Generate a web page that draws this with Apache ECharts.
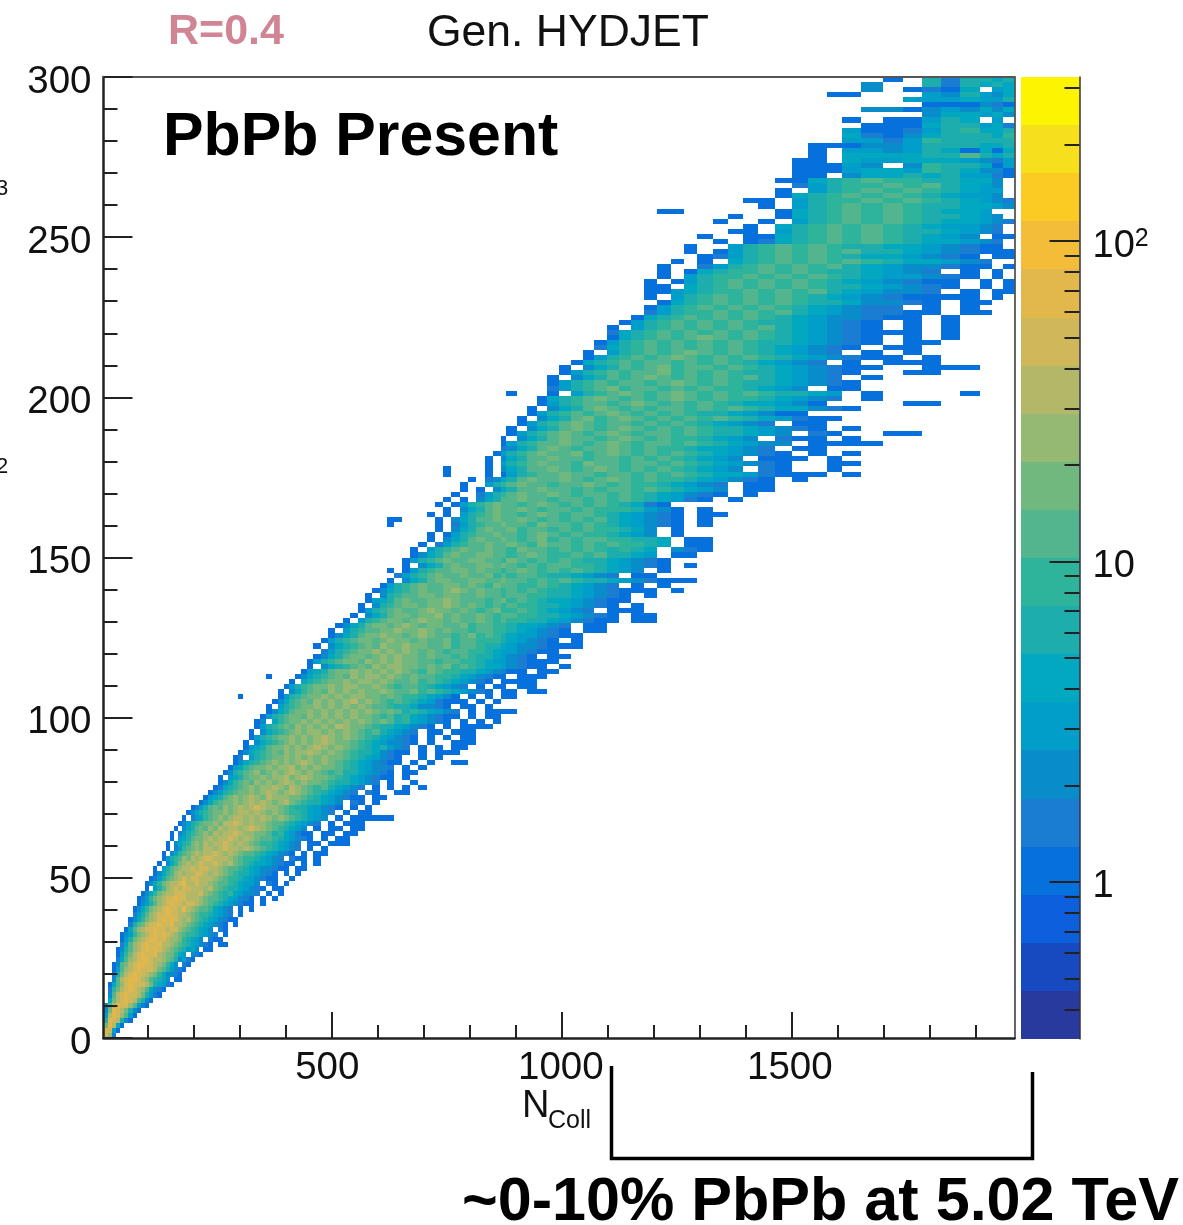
<!DOCTYPE html>
<html><head><meta charset="utf-8">
<style>html,body{margin:0;padding:0;background:#fff}#c{width:1183px;height:1225px;filter:blur(0.5px)}</style>
<script src="https://cdn.jsdelivr.net/npm/echarts@6/dist/echarts.min.js"></script>
</head><body><div id="c"></div>
<script>
const colEdges=[4,13,22,31,40,49,58,67,76,85,94,103,112,121,130,139,148,157,166,175,184,193,202,211,220,231,242,253,264,275,286,297,308,319,330,343,356,369,382,395,408,421,434,447,460,476,492,508,524,540,556,572,588,604,620,636,652,670,688,706,724,742,760,778,796,814,832,850,868,879,903,925,946,968,994,1020,1046,1070,1098,1125,1151,1179,1207,1238,1266,1294,1329,1362,1394,1427,1463,1500,1535,1576,1609,1650,1698,1742,1783,1824,1866,1909,1935,1959,1985];
const rowCount=190;
const yMax=300;
const xRange=[3.7,1984];
const levelColors=['#293a9f','#1749c0','#0e5fdb','#0670dc','#1a7dd2','#088cca','#019ec9','#02a8bf','#1cadac','#2fb49c','#53b58e','#70b87e','#95b873','#b3b768','#cfb75a','#e2b84d','#f3bc39','#fccb23','#f6df1c','#fcf400'];
const logZRange=[-0.49,2.512];
const xMajor=[500,1000,1500];
const xMinor=[100,200,300,400,600,700,800,900,1100,1200,1300,1400,1600,1700,1800,1900];
const yMajor=[0,50,100,150,200,250,300];
const yMinor=[10,20,30,40,60,70,80,90,110,120,130,140,160,170,180,190,210,220,230,240,260,270,280,290];
const zMajor=[1,10,100];
const zMinor=[0.4,0.5,0.6,0.7,0.8,0.9,2,3,4,5,6,7,8,9,20,30,40,50,60,70,80,90,200,300];
const rowCells=[
[0,0,"ec4"],[1,0,"ee63"],[2,0,"bfd73"],[3,0,"8fed853"],[4,0,"6dfeca63"],[5,0,"5bfedb853"],[6,0,"4adfeeca643"],
[7,1,"7bdefeda853"],[8,1,"5adefeedb8643"],[9,1,"49bdefedca7543"],[10,1,"37acefeeedb87643"],[11,2,"5adeffedca9875.33"],[12,2,"48bdefeedcb975543"],
[13,2,"36acdefeeedba86543"],[14,2,"35abdeffeedcb975.43"],[15,3,"47acdeffeddcba85643"],[16,3,"369bdefeefdcbb976.543"],[17,3,"358acdefefedcba98675.33"],
[18,4,"47acdefeefddcba9876543.33"],[19,4,"368bcdeffeedccb98765.433"],[20,4,"3569bcdefefedcba9987654.3"],[21,5,"37acdeefeedeecba98765.43"],
[22,6,"48abdeefeefddcba9876543.3"],[23,6,"3579bcdefefedcdba98765433"],[24,7,"468acdeefeeddcba9987654.3"],[25,7,"3579bcdefeedfdcbaa97654.3.3"],
[26,8,"3568acdefeedeedcba98765433.3"],[27,8,"3469bcdeefeedddcbaa9876543.3.3"],[28,9,"3579bcddeeedddecba98976554.3.3"],[29,10,"3.68acdedeedddcdba98876543.33"],
[30,10,"3579bcddefddeddcbaa987665.43.3"],[31,11,"3468abcdedeedddcba998765433..3"],[32,12,"3579acdcddeedcdcba98876543.3.3"],[33,12,"3.68abcddedeeddcbaa987655433.33"],
[34,13,"3.579bcdcdeddedcdba987765433.3.3"],[35,14,"3689acbdcdeedddcba9987654.433.3"],[36,14,"3.579abcdcddedcdcbaa9876543.3.33"],[37,15,"3.469abcbddcdeddcdcba987654.3.3."],
[38,15,"3.5789bcbdcddedcdcba9987654.33.333"],[39,16,"3.678abbcdcddedcdcbaa9876543.3.33"],[40,16,"3.4689abcbdcddedccbba8976433.33.33"],[41,17,"3.578abacbdcddcdedcba98765.3.33.33"],
[42,18,"35689abbcbddedcdccbaa987654.3.333"],[43,19,"3.4679abcbcddcdcdcbcba98765.3.333333"],[44,20,"35789abbcbcddcdcbcba9987654.3.33"],[45,21,"3468abacbcdcdedccba98876543.3.3"],
[46,23,"3579abbcbcdcdcbcdba988765.43.3"],[47,24,"3678abcbcdcbdcccbba98765433.33"],[48,25,"35689abbcbcdcbcdcba987654.43..33"],[49,26,"34789abcbccdcbdcba9a87654.3.3.3.3"],
[50,27,"3579abacbcbcdcbcbba9887654.3..3"],[51,27,"3.678abbcbccdbcdcbba98765433.3"],[52,28,"3589abcabcbcdcbcba9a8876543.33"],[53,29,"3679abbcbccdbcbcbba9876554.3.3"],
[54,30,"35789abcbcbcdcbcba98765433.3.3..33"],[55,30,"34.689abbcbcbcbcbba9876543..3.3."],[56,31,"35789abacbccdcbcba98875433.3.333"],[57,32,"3678abbcbcbcdcbcba9878654.3.3.33"],
[58,32,"3.5789abcbcbcdcbba98765543.3..333"],[59,33,"3689abbcbcbcdcbcba9876543.3.3.33"],[60,33,"3.5789abcbccbcbcba9a87654.33.333"],[61,34,"3689abacbcbcbdcbba98876543.3.3333"],
[62,34,"35.79abbcbcbcbcbcbaba8976543.3.3.3"],[63,35,"3689abbacbcbcbcbba9a89765433.3.33"],[64,36,"3578abbcbcbcbcbcbaba8987654.3.3333"],[65,36,"3.689abbcbcbcbcbaa98875543.33.3"],
[66,37,"3579abacbcbcdbcba9a98764333.3.3"],[67,31,"3......3689abbcbcbccbbaba9987653.3.3.33"],[68,38,"3.579abacbcbcbbcbaab9a9876543.33.33"],[69,39,"3689abbcbccbbcba9aa987654.3.33.33"],
[70,39,".3.789abbcbccbcbaab9a9876543.3333"],[71,36,"3....35789abacbccbcbabaa998765433.333"],[72,42,"3678abbcbcbcbcba9ba9988765433.33"],[73,43,"3.5789abacbccbbabab9a987765433.3"],
[74,43,"3689abbacbcbcbbaa9aa99876654333"],[75,44,"3578abbabcbcbbabaa9a98876543.33"],[76,44,".4689abbcbcbcbaba9aa9987665433"],[77,44,"3.5789abacbbcbbaab9aa98876554333"],
[78,45,"3689abbabcbbabaab9aa999876543.3"],[79,46,"3578abbcbbabcbaa9ab9a987665433"],[80,46,"3.689aabbcbbcbabaa9aa99876543.33"],[81,47,"3578abbabcbabbaab9aa99877654.33"],
[82,48,"3.689abbabcbbabaaba9a9988765433.33"],[83,49,"3.578abbabbcabaaba9aa998876543.33"],[84,50,"3689abaabcbbaba9ab99a987654.333"],[85,50,"3.589abbabbcbaba9a9a998876543.3"],
[86,51,"3678abaabbcbaaa9ab9a987765433"],[87,51,"3.589aabbabbaabaa9aa998876543.3"],[88,52,"35789abaabcbabaa9a9a9887654333.3"],[89,53,"3689abaabbaba9baa99a987654.3.3"],
[90,54,"3.578abbaabbaabaa9a9a9887654333"],[91,54,".4689abaabaab9a9aa9887654.33"],[92,54,"3.3689aabbabaa9aba9a9a98765.3"],[93,55,".3.578abaabbaba9a9aa99876543.3"],
[94,56,"3689abaabbaa9ba9a9a98876543"],[95,56,".3578abaabbaa9aba99a9a8876.33"],[96,57,"3.689abaabaa9baa9a9a98987.543"],[97,58,"3.4689aabaaba9baa9a9a9987.33"],
[98,58,".3.578abaaba9ab9a9aa99887.33"],[99,59,"3.3689aabaa9aba9a998765.3"],[100,59,".3.578abaab9aa9a9a99875.3"],[101,54,"3.....3.4689aabaa9baa9a9876543.3"],
[102,54,"33....3.578aabaaba9a9a9a876543.3"],[103,59,"3.3.689abaa9aba9aa9876543.33"],[104,60,".3.578abaaba9aa9a9998653.3"],[105,60,"3.3689abaa9aba9a9a98743"],
[106,61,"3.3.578aabaa9aa9a9a987643.3"],[107,62,"3..4689abaaba9aa9a9876543.3"],[108,62,".3.3.578aabaa9a9aa9a98765.33"],[109,63,"3..689abaa9aaba9a9987654.33"],
[110,64,"3.4578abaaba9aba9a99876543.3"],[111,61,"3....3.3689aabaa9aa9a9a987764333.3"],[112,61,"3....3.578aaba9aba9a9a98765.43..3"],[113,65,".3.689abaa9baa9aa9a9876543..33"],
[114,66,"3.578aabaa9aa9a9a98765.333.3"],[115,67,"3689abaab9aba9a9a9876543.3.3"],[116,67,".4578aba9aaba9a99877654.33"],[117,68,"3689aaba9aba9aa9a987655.3333"],
[118,68,"3.578abaa9aba9a998765.433.3"],[119,69,"3689aba9aba9aa9a988765.43..33"],[120,69,"3.578aba9aba9a9a98876543.3"],[121,70,"3689aba9aa9a9a987654.33"],
[122,70,"3.578ab9aba9a9a9a9876433"],[123,71,"3689a9aba9a9a98876533"],[124,71,"3.578aba9a9aa9a9a9877543"],[125,71,".3689aa9aba9a9a9877653....33"],
[126,72,"3789aba9a9aba9a9987654.3"],[127,69,"3...3.689aba9aba9a9a98876.3....3"],[128,72,".4689ab9aa9a9a998765.33"],[129,73,"3689a9aa9aba9a98876543"],
[130,73,"3.578a9aba9a9a9a87654.3"],[131,74,"3689a9aab9a9a98876543..33"],[132,74,"3.578a9ab9aa9a98765433..333"],[133,75,"3789a9aa9a9a987654.3.333"],
[134,75,".3689a9aba9a9a98765433.3"],[135,76,"3.689a9aba9a987654.3.3"],[136,76,".4789a9a9a9a9876543.33"],[137,77,"3689a9a9a9a98876543.33"],
[138,77,".3789a9aba9a9876543.3.3"],[139,78,"4789a9a9a9a987654333.3"],[140,78,"3.689a9a9a9a876543.3.3"],[141,79,"3689a9a9a98876543.3.3"],
[142,80,"3789a9a9a987655433.3"],[143,80,".46899a9a9a87654433.33"],[144,81,"3689a9a9a9876544.3.3"],[145,81,".3789a9a9a98875543.33"],
[146,81,"3.689a9a9a9876543333.3"],[147,81,"3367899a9a9a876554.3.33"],[148,81,"33.789a9a9a98876543.3.33"],[149,81,"3.3689a9a9a98765433.3.3"],
[150,82,"3.6899a9a9a98766543.3.3"],[151,82,"3.37899a9a9887654.3.3."],[152,82,"3..4689a9a9a87655433.3"],[153,83,"3.3.789a9a9a9877654.."],
[154,83,"..34689a9a98776543.33"],[155,84,"3.3689a9a9a887654333"],[156,84,"3..689a9a9887765433."],[157,86,"3.34789a9a9877654."],
[158,85,"3..33789a9a98765.33"],[159,87,"33.689a9a9887654"],[160,87,".3.789a9a9876654."],[161,86,"3..3.689a9a9877654"],
[162,87,"3..3789a9a988765"],[163,82,"33......3789a9a98776"],[164,89,"3.689a9a9887765"],[165,88,"33.6899a9a987654"],
[166,88,"..3789a9a987665"],[167,90,"3.689a9a98766"],[168,90,".46899a9a8765"],[169,90,"33789a9988775"],
[170,91,"33.5778786643"],[171,91,"3336776987553"],[172,91,"33365.5988736"],[173,91,"33.7667776546"],
[174,92,"3.777788a878"],[175,92,"3.6656873737"],[176,92,"333556888778"],[177,94,"6646988888"],
[178,94,"7435788879"],[179,94,"6334689778"],[180,94,".333788674"],[181,94,"3.33687.6."],
[182,98,"577675"],[183,95,"553565757"],[184,98,"333543"],[185,97,"6667668"],
[186,93,"33...658657"],[187,95,"5.3437.67"],[188,95,"5..848787"],[189,96,"3.848878"]
];
const levelCodes="0123456789abcdefghij";
const rowH=yMax/rowCount;
const cells=[];
rowCells.forEach(function(rc){
  const s=rc[2];
  for(let i=0;i<s.length;i++){
    const c=rc[1]+i;
    if(s[i]==='.'||c>=colEdges.length-1) continue;
    cells.push([colEdges[c],colEdges[c+1],rc[0]*rowH,(rc[0]+1)*rowH,levelCodes.indexOf(s[i])]);
  }
});
const levelStep=(logZRange[1]-logZRange[0])/levelColors.length;
const barCells=levelColors.map(function(_,i){return [0,1,logZRange[0]+i*levelStep,logZRange[0]+(i+1)*levelStep,i];});
function renderCell(params,api){
  const a=api.coord([api.value(0),api.value(2)]);
  const b=api.coord([api.value(1),api.value(3)]);
  const x0=Math.round(a[0]),x1=Math.round(b[0]),y0=Math.round(b[1]),y1=Math.round(a[1]);
  return {type:'rect',shape:{x:x0,y:y0,width:x1-x0,height:y1-y0},style:{fill:levelColors[api.value(4)]},silent:true};
}
const font='"Liberation Sans",Arial,sans-serif';
const tickLine={color:'#222',width:2};
const mainLine={show:true,onZero:false,lineStyle:{color:'#222',width:2.5}};
const thinLine={show:true,onZero:false,lineStyle:{color:'#555',width:1.8}};
const noLine={show:false,onZero:false};
const labelStyle={color:'#111',fontFamily:font,fontSize:38.5};
const hide={show:false};
const axisZ=10;
function logVals(list){return list.map(function(v){return Math.log10(v);});}
const chart=echarts.init(document.getElementById('c'),null,{renderer:'canvas'});
chart.setOption({
  animation:false,
  backgroundColor:'#fff',
  grid:[{left:103.5,top:77,width:911,height:961},{left:1020.5,top:77,width:59,height:962}],
  xAxis:[
    {gridIndex:0,z:axisZ,type:'value',min:xRange[0],max:xRange[1],position:'bottom',axisLine:mainLine,splitLine:hide,
      axisTick:{inside:true,length:26,lineStyle:tickLine,customValues:xMajor},
      axisLabel:Object.assign({margin:11,customValues:xMajor,hideOverlap:false,
        formatter:function(v){return '{t'+v+'|'+v+'}';},
        rich:{t500:{padding:[0,9,0,0]},t1000:{padding:[0,2,0,0]},t1500:{padding:[0,4,0,0]}}},labelStyle)},
    {gridIndex:0,z:axisZ,type:'value',min:xRange[0],max:xRange[1],position:'bottom',axisLine:noLine,splitLine:hide,
      axisTick:{inside:true,length:13,lineStyle:tickLine,customValues:xMinor},axisLabel:hide},
    {gridIndex:0,z:axisZ,type:'value',min:xRange[0],max:xRange[1],position:'top',axisLine:thinLine,splitLine:hide,axisTick:hide,axisLabel:hide},
    {gridIndex:1,type:'value',min:0,max:1,axisLine:noLine,axisTick:hide,axisLabel:hide,splitLine:hide}
  ],
  yAxis:[
    {gridIndex:0,z:axisZ,type:'value',min:0,max:yMax,position:'left',axisLine:mainLine,splitLine:hide,
      axisTick:{inside:true,length:29,lineStyle:tickLine,customValues:yMajor},
      axisLabel:Object.assign({margin:12,customValues:yMajor,hideOverlap:false,padding:[10,0,0,0],rich:{n:{}}},labelStyle)},
    {gridIndex:0,z:axisZ,type:'value',min:0,max:yMax,position:'left',axisLine:noLine,splitLine:hide,
      axisTick:{inside:true,length:14,lineStyle:tickLine,customValues:yMinor},axisLabel:hide},
    {gridIndex:0,z:axisZ,type:'value',min:0,max:yMax,position:'right',axisLine:thinLine,splitLine:hide,axisTick:hide,axisLabel:hide},
    {gridIndex:1,z:axisZ,type:'value',min:logZRange[0],max:logZRange[1],position:'right',splitLine:hide,
      axisLine:{show:true,onZero:false,lineStyle:{color:'#334',width:1.5}},
      axisTick:{inside:true,length:30,lineStyle:tickLine,customValues:logVals(zMajor)},
      axisLabel:{margin:13,customValues:logVals(zMajor),hideOverlap:false,color:'#111',fontFamily:font,fontSize:38,padding:[10,0,0,0],
        formatter:function(v){const p=Math.round(v);return p===2?'{a|10}{b|2}':String(Math.pow(10,p));},
        rich:{a:{fontSize:38,fontFamily:font,color:'#111'},b:{fontSize:25,fontFamily:font,color:'#111',verticalAlign:'top',padding:[0,0,14,0]}}}},
    {gridIndex:1,z:axisZ,type:'value',min:logZRange[0],max:logZRange[1],position:'right',splitLine:hide,axisLine:noLine,axisLabel:hide,
      axisTick:{show:true,inside:true,length:15,lineStyle:tickLine,customValues:logVals(zMinor)}}
  ],
  series:[
    {type:'custom',xAxisIndex:0,yAxisIndex:0,coordinateSystem:'cartesian2d',renderItem:renderCell,data:cells,clip:true,silent:true,progressive:0,encode:{x:[0,1],y:[2,3]}},
    {type:'custom',xAxisIndex:3,yAxisIndex:3,coordinateSystem:'cartesian2d',renderItem:renderCell,data:barCells,clip:true,silent:true,encode:{x:[0,1],y:[2,3]}}
  ],
  graphic:[
    {type:'text',left:168,top:11,style:{text:'R=0.4',fontFamily:font,fontWeight:'bold',fontSize:43,fill:'#d08494'}},
    {type:'text',left:427,top:11,style:{text:'Gen. HYDJET',fontFamily:font,fontSize:44.5,fill:'#111'}},
    {type:'text',left:163,top:108,style:{text:'PbPb Present',fontFamily:font,fontWeight:'bold',fontSize:60.8,fill:'#000'}},
    {type:'text',left:462,top:1173,style:{text:'~0-10% PbPb at 5.02 TeV',fontFamily:font,fontWeight:'bold',fontSize:61.1,fill:'#000'}},
    {type:'text',left:522,top:1088,style:{text:'N',fontFamily:font,fontSize:38,fill:'#111'}},
    {type:'text',left:548,top:1109,style:{text:'Coll',fontFamily:font,fontSize:25,fill:'#111'}},
    {type:'text',x:-4,y:178,style:{text:'3',fontFamily:font,fontSize:22,fill:'#111'}},
    {type:'text',x:-4,y:456,style:{text:'2',fontFamily:font,fontSize:22,fill:'#111'}},
    {type:'polyline',shape:{points:[[611.5,1066],[611.5,1158.5],[1032.5,1158.5],[1032.5,1072]]},style:{stroke:'#000',lineWidth:3.5,fill:null}}
  ]
});
</script></body></html>
